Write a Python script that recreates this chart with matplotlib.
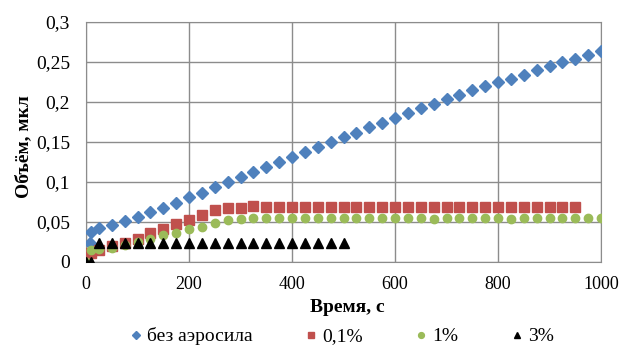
import matplotlib.pyplot as plt
from matplotlib.ticker import FuncFormatter

plt.rcParams['font.family'] = ['Liberation Serif', 'DejaVu Serif']

# время, с
t_blue = [7, 10] + list(range(25, 1001, 25))
v_blue = [0.024, 0.0376, 0.042, 0.046, 0.051, 0.0556, 0.0618, 0.0668, 0.0739, 0.0806,
          0.0864, 0.0931, 0.0998, 0.1064, 0.1123, 0.119, 0.1244, 0.1314, 0.137, 0.144,
          0.150, 0.1565, 0.1615, 0.1686, 0.174, 0.180, 0.1865, 0.192, 0.197, 0.204,
          0.2087, 0.215, 0.220, 0.2246, 0.229, 0.234, 0.2396, 0.245, 0.2496, 0.2542,
          0.2588, 0.2638]

t_red = [0, 10] + list(range(25, 951, 25))
v_red = [0.003, 0.011, 0.0146, 0.020, 0.024, 0.029, 0.0355, 0.0415, 0.047, 0.052,
         0.058, 0.0647, 0.068, 0.068, 0.0693, 0.069, 0.069, 0.069, 0.0689, 0.0689,
         0.0689, 0.0681, 0.0689, 0.0689, 0.0689, 0.0689, 0.0689, 0.0689, 0.0689, 0.0689,
         0.0681, 0.0681, 0.0689, 0.0689, 0.0681, 0.0681, 0.0689, 0.0689, 0.0689, 0.0681]

t_green = [0, 10] + list(range(25, 1001, 25))
v_green = [0.0, 0.0146, 0.016, 0.0175, 0.021, 0.025, 0.029, 0.0334, 0.0366, 0.0405,
           0.0438, 0.0488, 0.052, 0.0535, 0.0543, 0.0543, 0.0543, 0.0543, 0.0543, 0.0543,
           0.0543, 0.0543, 0.0543, 0.0543, 0.0543, 0.0543, 0.0543, 0.0543, 0.0535, 0.0543,
           0.0543, 0.0546, 0.0543, 0.0543, 0.0535, 0.0543, 0.0543, 0.0543, 0.0543, 0.0543,
           0.0543, 0.0543]

t_black = [0, 10] + list(range(25, 501, 25))
v_black = [0.0, 0.0] + [0.024] * 20

fig = plt.figure(figsize=(6.19, 3.45), dpi=100)
ax = fig.add_axes([0.139, 0.241, 0.832, 0.695])

ax.plot(t_blue, v_blue, 'D', color='#4F81BD', ms=6.5, mec='#4F81BD', label='без аэросила', zorder=3)
ax.plot(t_red, v_red, 's', color='#C0504D', ms=6.5, label='0,1%', zorder=3)
ax.plot(t_green, v_green, 'o', color='#9BBB59', ms=6, label='1%', zorder=3)
ax.plot(t_black, v_black, '^', color='black', ms=6.5, label='3%', zorder=3)

ax.set_xlim(0, 1000)
ax.set_ylim(0, 0.3)
ax.set_xticks(range(0, 1001, 200))
ax.set_yticks([0, 0.05, 0.1, 0.15, 0.2, 0.25, 0.3])
ax.yaxis.set_major_formatter(FuncFormatter(lambda v, p: ('%g' % round(v, 2)).replace('.', ',')))
ax.grid(True, color='#8c8c8c', lw=1)
ax.set_axisbelow(True)
for s in ax.spines.values():
    s.set_color('#8c8c8c')
ax.tick_params(length=0)
ax.tick_params(axis='y', pad=11.5, labelsize=14)
ax.tick_params(axis='x', pad=10, labelsize=13)

ax.set_xlabel('Время, с', fontsize=14, fontweight='bold')
ax.set_ylabel('Объём, мкл', fontsize=14, fontweight='bold')
ax.xaxis.set_label_coords(0.507, -0.155)
ax.yaxis.set_label_coords(-0.105, 0.48)

fig.legend(loc='center', bbox_to_anchor=(0.5525, 0.025), ncol=4, frameon=False,
           fontsize=14, markerscale=0.7, handlelength=0.6, handletextpad=0.27,
           columnspacing=2.7, borderpad=0)

fig.savefig('out.png', dpi=100)
